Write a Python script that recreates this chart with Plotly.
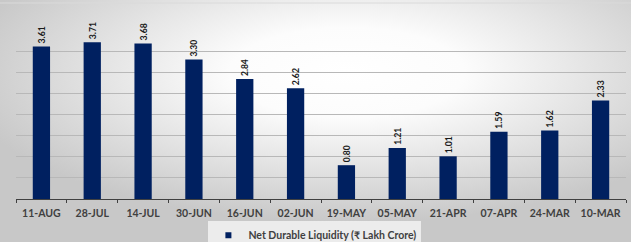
import base64
import plotly.graph_objects as go

categories = ["11-AUG", "28-JUL", "14-JUL", "30-JUN", "16-JUN", "02-JUN",
              "19-MAY", "05-MAY", "21-APR", "07-APR", "24-MAR", "10-MAR"]
values = [3.61, 3.71, 3.68, 3.30, 2.84, 2.62, 0.80, 1.21, 1.01, 1.59, 1.62, 2.33]
series_name = "Net Durable Liquidity (₹ Lakh Crore)"

W, H = 631, 242
L, R, T, B = 16, 5, 30, 43
pw, ph = W - L - R, H - T - B

svg = (
    '<svg xmlns="http://www.w3.org/2000/svg" width="631" height="242" '
    'preserveAspectRatio="none" viewBox="0 0 631 242">'
    '<defs><radialGradient id="g" cx="0.55" cy="0.3" r="0.62">'
    '<stop offset="0" stop-color="#ffffff"/>'
    '<stop offset="0.3" stop-color="#fcfcfc"/>'
    '<stop offset="1" stop-color="#c8c8c8"/>'
    '</radialGradient></defs>'
    '<rect x="0" y="0" width="631" height="242" fill="url(#g)"/>'
    '<line x1="0" y1="3" x2="631" y2="3" stroke="#dadada" stroke-width="1"/>'
    '</svg>'
)
src = "data:image/svg+xml;base64," + base64.b64encode(svg.encode()).decode()

fig = go.Figure()
fig.add_trace(go.Bar(
    x=categories, y=values, name=series_name,
    marker=dict(color="#002060", line=dict(width=0)),
    text=[f"{v:.2f}" for v in values],
    textposition="outside", textangle=-90,
    textfont=dict(family="Lato", size=11, color="#1a1a1a", weight="bold"),
    cliponaxis=False,
    showlegend=False,
))
fig.add_trace(go.Scatter(
    x=[None], y=[None], mode="markers", name=series_name,
    marker=dict(symbol="square", size=6, color="#002060"),
    showlegend=True,
))

fig.update_layout(
    width=W, height=H,
    margin=dict(l=L, r=R, t=T, b=B, autoexpand=False),
    paper_bgcolor="rgba(0,0,0,0)",
    plot_bgcolor="rgba(0,0,0,0)",
    bargap=0.66,
    images=[dict(
        source=src, xref="paper", yref="paper",
        x=-L / pw, y=1 + T / ph, sizex=W / pw, sizey=H / ph,
        xanchor="left", yanchor="top", sizing="stretch", layer="below",
    )],
    xaxis=dict(
        showline=True, linecolor="#404040", linewidth=1,
        ticks="outside", tickson="boundaries", ticklen=3, tickcolor="#404040",
        tickfont=dict(family="Lato", size=10.5, color="#404040", weight="bold"),
        ticklabelstandoff=4,
        showgrid=False,
    ),
    yaxis=dict(
        range=[0, 4.0001], dtick=0.5, showticklabels=False,
        showgrid=True, gridcolor="#b8b8b8", gridwidth=1,
        zeroline=False, showline=False,
    ),
    legend=dict(
        orientation="h", x=0.49, xanchor="center", y=-0.128, yanchor="top",
        bgcolor="rgba(248,248,248,0.75)",
        font=dict(family="Lato", size=10.5, color="#404040", weight="bold"),
        itemwidth=30,
    ),
)

fig.write_html(
    "out.html",
    config={"displayModeBar": False},
    post_script="document.body.style.margin='0';document.body.style.overflow='hidden';",
)
